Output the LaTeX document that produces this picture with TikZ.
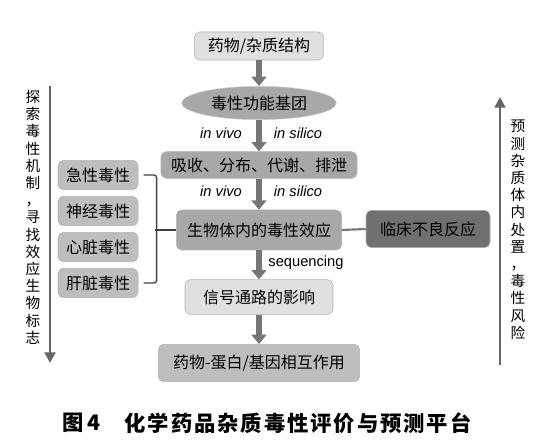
\documentclass[tikz,border=0pt]{standalone}
\usepackage{fontspec}
\usepackage{xcolor}
\setmainfont{Liberation Sans}
\newfontfamily\cjk{Noto Sans CJK SC}
\newfontfamily\capfont{Noto Sans CJK SC}[LetterSpace=9]
\usetikzlibrary{arrows.meta,shapes.geometric}
\definecolor{lightfill}{RGB}{224,224,224}
\definecolor{midfill}{RGB}{168,168,168}
\definecolor{darkfill}{RGB}{112,112,112}
\definecolor{sidefill}{RGB}{190,190,190}
\definecolor{flowgray}{RGB}{118,118,118}

\begin{document}
\begin{tikzpicture}[x=0.75pt,y=-0.75pt,
  box/.style={draw=black!30,rounded corners=4pt,align=center,inner sep=0pt,
              font=\cjk\fontsize{12}{14}\selectfont},
  sidebox/.style={box,fill=sidefill,minimum width=60pt,minimum height=22pt},
  flow/.style={draw=flowgray,line width=4.5pt,
               -{Triangle[width=11pt,length=7pt]}},
  axis/.style={draw=black!60,line width=2pt,
               -{Triangle[width=8pt,length=8pt]}},
  tag/.style={font=\itshape\fontsize{11}{13}\selectfont},
  vtext/.style={align=center,font=\cjk\fontsize{11}{12.9}\selectfont,inner sep=0pt}]
  \useasboundingbox (0,0) rectangle (539,445);

  % main column
  \node[box,fill=lightfill,minimum width=97pt,minimum height=21pt] (struct) at (259,46) {药物/杂质结构};
  \node[box,ellipse,fill=midfill,draw=black!20,minimum width=116pt,minimum height=25pt] (group) at (259,103) {毒性功能基团};
  \node[box,fill=midfill,minimum width=147pt,minimum height=20pt] (adme) at (259,165) {吸收、分布、代谢、排泄};
  \node[box,fill=midfill,minimum width=124pt,minimum height=30pt] (bio) at (259,230) {生物体内的毒性效应};
  \node[box,fill=darkfill,minimum width=93pt,minimum height=28pt] (clinic) at (428,229) {临床不良反应};
  \node[box,fill=lightfill,minimum width=111pt,minimum height=26pt] (signal) at (259,297) {信号通路的影响};
  \node[box,fill=sidefill,minimum width=151pt,minimum height=28pt] (protein) at (259,363) {药物-蛋白/基因相互作用};

  \draw[flow] (struct.south) -- (group.north);
  \draw[flow] (group.south) -- (adme.north);
  \draw[flow] (adme.south) -- (bio.north);
  \draw[flow] (bio.south) -- (signal.north);
  \draw[flow] (signal.south) -- (protein.north);
  \draw[draw=flowgray,line width=1.6pt] (bio.east) -- (clinic.west);

  \node[tag] (vivoA) at (221,133) {in vivo};
  \node[tag] (silicoA) at (298,133) {in silico};
  \node[tag] (vivoB) at (221,191) {in vivo};
  \node[tag] (silicoB) at (298,191) {in silico};
  \node[font=\fontsize{11}{13}\selectfont] (seq) at (306,263) {sequencing};

  % toxicity types
  \node[sidebox] (acute) at (98,175) {急性毒性};
  \node[sidebox] (neuro) at (98,211) {神经毒性};
  \node[sidebox] (heart) at (98,247) {心脏毒性};
  \node[sidebox] (liver) at (98,283) {肝脏毒性};
  \draw[black!75,line width=1pt,rounded corners=2pt]
    ([xshift=4]acute.east) -- ++(13,0) |- ([xshift=4]liver.east);
  \draw[black!75,line width=1pt] (bio.west) -- ++(-21,0);

  % side axes
  \coordinate (ltop) at (50,86);
  \coordinate (lbot) at (50,363);
  \draw[axis] (ltop) -- (lbot);
  \node[vtext,anchor=north] (ltext) at (33,90)
    {探\\索\\毒\\性\\机\\制\\，\\寻\\找\\效\\应\\生\\物\\标\\志};
  \coordinate (rbot) at (500,365);
  \coordinate (rtop) at (500,97);
  \draw[axis] (rbot) -- (rtop);
  \node[vtext,anchor=north] (rtext) at (518,120)
    {预\\测\\杂\\质\\体\\内\\处\\置\\，\\毒\\性\\风\\险};

  % caption
  \node[font=\cjk\bfseries\fontsize{16}{18}\selectfont,anchor=west] (fig) at (58,423) {图\,4};
  \node[font=\capfont\bfseries\fontsize{16}{18}\selectfont,anchor=west] (title) at (120,423) {化学药品杂质毒性评价与预测平台};
\end{tikzpicture}
\end{document}
